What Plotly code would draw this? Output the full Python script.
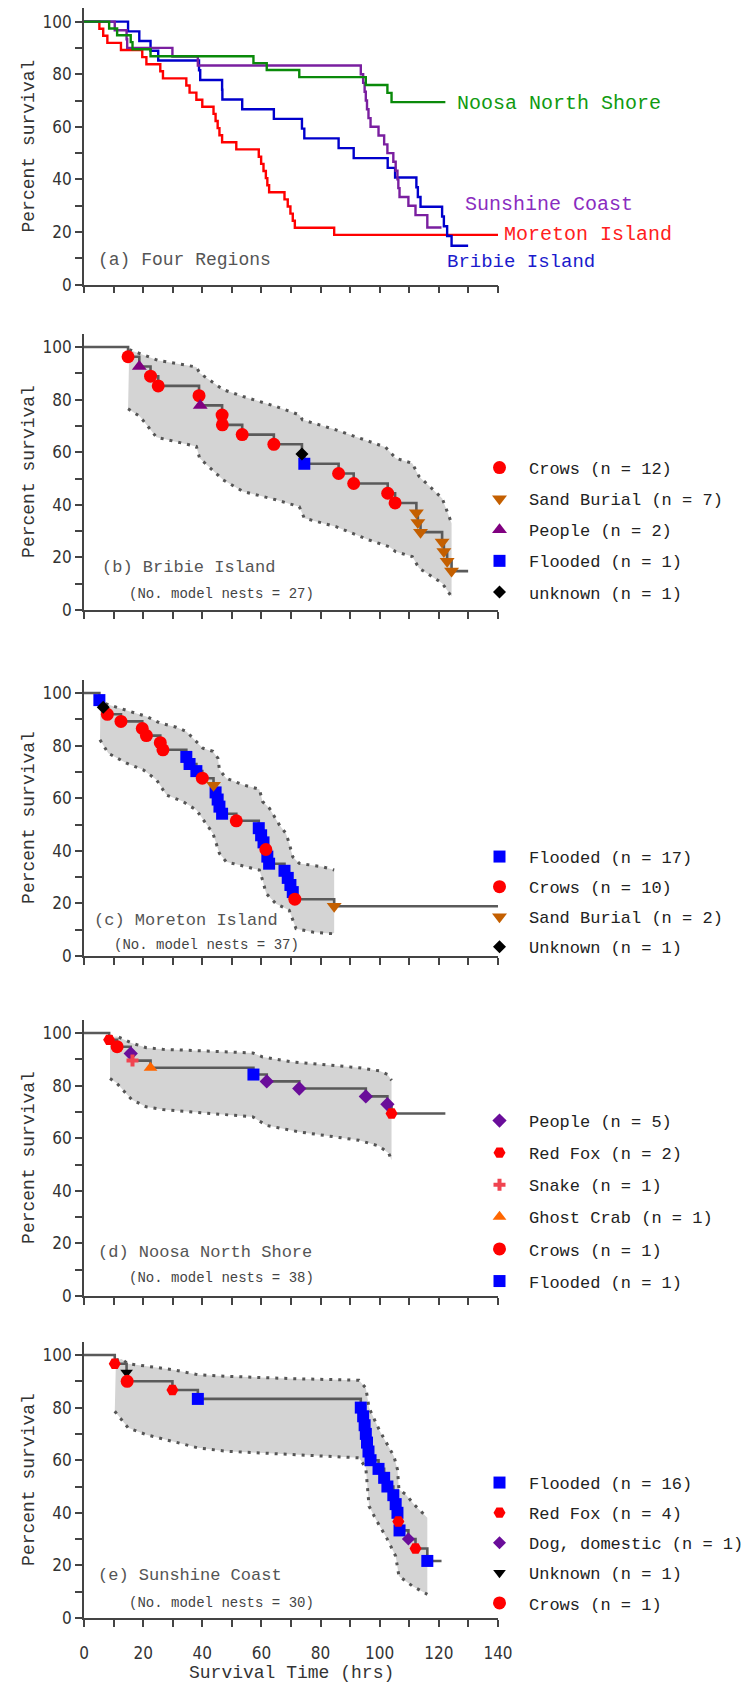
import plotly.graph_objects as go

# ---------------- data ----------------
x_ticks = [0, 10, 20, 30, 40, 50, 60, 70, 80, 90, 100, 110, 120, 130, 140]
x_tick_text = ["0", "", "20", "", "40", "", "60", "", "80", "", "100", "", "120", "", "140"]
y_ticks = [0, 10, 20, 30, 40, 50, 60, 70, 80, 90, 100]
y_tick_text = ["0", "", "20", "", "40", "", "60", "", "80", "", "100"]

# (b) Bribie Island
bribie_t = [14.9, 18.7, 22.5, 25.1, 38.9, 39.3, 46.7, 46.8, 53.5, 64.2, 73.7, 74.5,
            86.1, 91.2, 102.7, 105.2, 112.4, 112.9, 113.8, 121.1, 121.7, 122.8, 124.3]
bribie_s = [96.3, 92.6, 88.9, 85.2, 81.5, 77.8, 74.1, 70.4, 66.7, 63.0, 59.3, 55.6,
            51.9, 48.1, 44.4, 40.7, 37.0, 33.3, 29.6, 25.9, 22.2, 18.5, 14.8]
bribie_cause = ["Crows", "People", "Crows", "Crows", "Crows", "People", "Crows", "Crows",
                "Crows", "Crows", "unknown", "Flooded", "Crows", "Crows", "Crows", "Crows",
                "Sand Burial", "Sand Burial", "Sand Burial", "Sand Burial", "Sand Burial",
                "Sand Burial", "Sand Burial"]
bribie_end = 129.9
bribie_up_t = [15.3, 25.1, 38.0, 39.1, 47.0, 53.7, 64.9, 72.8, 73.9, 85.2, 96.4, 102.0,
               105.4, 111.0, 113.3, 121.1, 122.2, 124.3]
bribie_up = [99.0, 94.9, 92.4, 90.1, 83.8, 81.2, 77.4, 74.2, 72.3, 68.5, 64.1, 61.9,
             57.7, 55.8, 50.8, 42.5, 39.3, 33.0]
bribie_lo_t = [14.9, 18.9, 24.5, 38.0, 39.1, 47.0, 53.7, 64.9, 72.8, 74.5, 85.2, 96.4,
               103.1, 105.4, 111.0, 113.3, 121.1, 124.3]
bribie_lo = [76.5, 73.6, 65.7, 62.2, 57.7, 49.5, 45.1, 41.9, 39.3, 34.9, 31.7, 26.6,
             24.1, 22.2, 20.3, 15.9, 10.2, 5.1]

# (c) Moreton Island
moreton_t = [5.2, 6.5, 7.9, 12.5, 19.7, 21.1, 25.8, 26.7, 34.6, 35.7, 38.0, 40.0, 43.8,
             44.5, 45.2, 45.8, 46.7, 51.5, 59.1, 59.9, 60.7, 61.5, 62.0, 62.6, 67.8,
             68.9, 69.8, 70.6, 71.3, 84.6]
moreton_s = [97.3, 94.6, 91.9, 89.2, 86.5, 83.8, 81.1, 78.4, 75.7, 73.0, 70.3, 67.6, 64.9,
             62.2, 59.5, 56.8, 54.1, 51.4, 48.6, 45.9, 43.2, 40.5, 37.8, 35.1, 32.4,
             29.7, 27.0, 24.3, 21.6, 18.9]
moreton_cause = ["Flooded", "Unknown", "Crows", "Crows", "Crows", "Crows", "Crows", "Crows",
                 "Flooded", "Flooded", "Flooded", "Crows", "Sand Burial", "Flooded",
                 "Flooded", "Flooded", "Flooded", "Crows", "Flooded", "Flooded", "Flooded",
                 "Crows", "Flooded", "Flooded", "Flooded", "Flooded", "Flooded", "Flooded",
                 "Crows", "Sand Burial"]
moreton_end = 140.0
moreton_up_t = [5.6, 6.5, 15.5, 21.1, 25.6, 31.2, 34.6, 36.9, 40.2, 43.6, 45.3, 45.8, 48.1,
                53.7, 59.3, 60.4, 62.7, 66.1, 68.3, 69.4, 70.6, 72.8, 80.7, 84.6]
moreton_up = [98.5, 96.2, 93.0, 91.1, 88.6, 87.0, 85.4, 82.8, 79.0, 77.8, 75.2, 70.8, 67.6,
              65.1, 63.4, 58.7, 56.2, 49.8, 46.6, 42.8, 37.7, 35.2, 33.9, 32.7]
moreton_lo_t = [5.4, 8.2, 14.4, 20.0, 24.5, 27.9, 33.5, 38.0, 43.6, 45.8, 48.1, 54.8, 59.3,
                60.4, 61.6, 64.9, 69.4, 71.7, 77.3, 84.0, 84.6]
moreton_lo = [82.2, 77.1, 73.3, 70.8, 67.0, 61.2, 58.7, 55.5, 46.6, 39.0, 35.8, 33.9, 32.7,
              28.8, 23.8, 19.9, 17.4, 10.4, 9.1, 8.5, 8.8]

# (d) Noosa North Shore
noosa_t = [8.5, 11.2, 15.8, 16.4, 22.5, 57.3, 61.8, 72.8, 95.3, 102.6, 104.0]
noosa_s = [97.4, 94.8, 92.2, 89.5, 86.8, 84.2, 81.6, 78.9, 75.9, 72.9, 69.4]
noosa_cause = ["Red Fox", "Crows", "People", "Snake", "Ghost Crab", "Flooded", "People",
               "People", "People", "People", "Red Fox"]
noosa_end = 122.2
noosa_up_t = [8.8, 11.2, 16.1, 21.1, 26.7, 57.1, 60.4, 70.6, 93.0, 99.8, 102.6, 104.0]
noosa_up = [98.5, 98.7, 96.2, 94.4, 93.8, 92.4, 90.9, 89.0, 86.8, 85.6, 84.3, 82.0]
noosa_lo_t = [8.8, 11.0, 16.1, 21.1, 26.7, 57.1, 61.6, 72.8, 93.0, 99.8, 103.1, 104.0]
noosa_lo = [82.7, 81.0, 74.7, 71.9, 70.9, 68.1, 64.9, 62.4, 59.2, 57.0, 54.2, 51.6]

# (e) Sunshine Coast
sun_t = [10.4, 14.4, 14.6, 29.9, 38.5, 93.6, 94.4, 94.9, 95.3, 95.7, 96.2, 96.9, 99.6,
         101.5, 102.6, 104.6, 105.4, 106.0, 106.3, 106.7, 109.7, 112.1, 116.1]
sun_s = [96.7, 93.3, 90.0, 86.7, 83.3, 80.0, 76.7, 73.3, 70.0, 66.7, 63.3, 60.0, 56.7,
         53.3, 50.0, 46.7, 43.3, 40.0, 36.7, 33.3, 30.0, 26.4, 21.7]
sun_cause = ["Red Fox", "Unknown", "Crows", "Red Fox", "Flooded", "Flooded", "Flooded",
             "Flooded", "Flooded", "Flooded", "Flooded", "Flooded", "Flooded", "Flooded",
             "Flooded", "Flooded", "Flooded", "Flooded", "Red Fox", "Flooded",
             "Dog, domestic", "Red Fox", "Flooded"]
sun_end = 120.9
sun_up_t = [10.8, 12.7, 14.9, 21.1, 30.1, 38.5, 48.1, 70.6, 93.0, 95.3, 96.4, 99.8, 104.8,
            106.0, 106.5, 108.8, 111.6, 116.1]
sun_up = [98.0, 98.5, 96.7, 95.7, 94.4, 92.5, 91.9, 91.0, 90.4, 87.5, 79.9, 71.6, 61.5,
          56.5, 48.9, 47.0, 43.2, 38.1]
sun_lo_t = [10.4, 14.9, 21.1, 30.1, 38.5, 48.1, 70.6, 93.0, 95.3, 96.4, 98.7, 102.6, 105.4,
            106.5, 111.0, 116.1]
sun_lo = [78.6, 72.3, 69.7, 67.2, 64.7, 63.4, 62.2, 60.9, 57.1, 42.5, 37.5, 29.9, 23.5,
          15.9, 12.2, 9.0]

# legend entries (cause, label) per panel
legend_b = [("Crows", "Crows (n = 12)"), ("Sand Burial", "Sand Burial (n = 7)"),
            ("People", "People (n = 2)"), ("Flooded", "Flooded (n = 1)"),
            ("unknown", "unknown (n = 1)")]
legend_c = [("Flooded", "Flooded (n = 17)"), ("Crows", "Crows (n = 10)"),
            ("Sand Burial", "Sand Burial (n = 2)"), ("Unknown", "Unknown (n = 1)")]
legend_d = [("People", "People (n = 5)"), ("Red Fox", "Red Fox (n = 2)"),
            ("Snake", "Snake (n = 1)"), ("Ghost Crab", "Ghost Crab (n = 1)"),
            ("Crows", "Crows (n = 1)"), ("Flooded", "Flooded (n = 1)")]
legend_e = [("Flooded", "Flooded (n = 16)"), ("Red Fox", "Red Fox (n = 4)"),
            ("Dog, domestic", "Dog, domestic (n = 1)"), ("Unknown", "Unknown (n = 1)"),
            ("Crows", "Crows (n = 1)")]

# ---------------- styles ----------------
MONO = "Liberation Mono, Courier New, monospace"
NARROW = "Liberation Sans Narrow, DejaVu Sans Condensed, sans-serif"
STEP_COL = "#5a5a5a"
FILL_COL = "#d4d4d4"

marker_style = {
    "Crows": dict(symbol="circle", color="#ff0000", size=13),
    "Sand Burial": dict(symbol="triangle-down", color="#c45f00", size=13),
    "People_b": dict(symbol="triangle-up", color="#800080", size=13),
    "People": dict(symbol="diamond", color="#6a0d9a", size=11),
    "Flooded": dict(symbol="square", color="#0000ff", size=12),
    "unknown": dict(symbol="diamond", color="#000000", size=10),
    "Unknown": dict(symbol="diamond", color="#000000", size=10),
    "Unknown_e": dict(symbol="triangle-down", color="#000000", size=11),
    "Red Fox": dict(symbol="hexagon2", color="#ff0000", size=12),
    "Snake": dict(symbol="cross", color="#f04450", size=10),
    "Ghost Crab": dict(symbol="triangle-up", color="#ff6600", size=12),
    "Dog, domestic": dict(symbol="diamond", color="#6a0d9a", size=10),
}

W, H = 755, 1684
x_dom = [84 / W, 498 / W]
zero_px = [284.6, 610.0, 956.0, 1296.0, 1618.0]
PX_PER_UNIT = 2.63
y_doms = [[1 - z / H, 1 - (z - 105 * PX_PER_UNIT) / H] for z in zero_px]

fig = go.Figure()


def ax(i):
    return ("x" if i == 1 else f"x{i}"), ("y" if i == 1 else f"y{i}")


def add_panel(i, t, s, cause, end, up_t, up, lo_t, lo, legend_items, legend_name, overrides):
    xa, ya = ax(i)
    # confidence band fill
    fig.add_trace(go.Scatter(x=up_t + lo_t[::-1], y=up + lo[::-1], fill="toself",
                             fillcolor=FILL_COL, line=dict(width=0), mode="lines",
                             showlegend=False, hoverinfo="skip", xaxis=xa, yaxis=ya))
    for bt, bs in ((up_t, up), (lo_t, lo)):
        fig.add_trace(go.Scatter(x=bt, y=bs, mode="lines",
                                 line=dict(color="#555555", width=3, dash="3px,6px"),
                                 showlegend=False, hoverinfo="skip", xaxis=xa, yaxis=ya))
    # KM step line
    fig.add_trace(go.Scatter(x=[0] + t + [end], y=[100] + s + [s[-1]], mode="lines",
                             line=dict(color=STEP_COL, width=2.6, shape="hv"),
                             showlegend=False, hoverinfo="skip", xaxis=xa, yaxis=ya))
    # markers by cause (legend order)
    for k, (c, label) in enumerate(legend_items):
        st = marker_style[overrides.get(c, c)]
        xs = [tt for tt, cc in zip(t, cause) if cc == c]
        ys = [ss for ss, cc in zip(s, cause) if cc == c]
        fig.add_trace(go.Scatter(x=xs, y=ys, mode="markers", name=label,
                                 marker=dict(symbol=st["symbol"], color=st["color"],
                                             size=st["size"], line=dict(width=0)),
                                 legend=legend_name, legendgroup=f"{legend_name}_{k}",
                                 xaxis=xa, yaxis=ya, cliponaxis=False))


# panel (a): four regions
region_cols = {"Noosa": "#0a8a0a", "Sunshine": "#7a1fa0", "Moreton": "#ff0000", "Bribie": "#0000cc"}
for key, t, s, end in (("Moreton", moreton_t, moreton_s, moreton_end),
                       ("Bribie", bribie_t, bribie_s, bribie_end),
                       ("Sunshine", sun_t, sun_s, sun_end),
                       ("Noosa", noosa_t, noosa_s, noosa_end)):
    fig.add_trace(go.Scatter(x=[0] + t + [end], y=[100] + s + [s[-1]], mode="lines",
                             line=dict(color=region_cols[key], width=2.4, shape="hv"),
                             showlegend=False, hoverinfo="skip", xaxis="x", yaxis="y"))

add_panel(2, bribie_t, bribie_s, bribie_cause, bribie_end, bribie_up_t, bribie_up,
          bribie_lo_t, bribie_lo, legend_b, "legend", {"People": "People_b"})
add_panel(3, moreton_t, moreton_s, moreton_cause, moreton_end, moreton_up_t, moreton_up,
          moreton_lo_t, moreton_lo, legend_c, "legend2", {})
add_panel(4, noosa_t, noosa_s, noosa_cause, noosa_end, noosa_up_t, noosa_up,
          noosa_lo_t, noosa_lo, legend_d, "legend3", {})
add_panel(5, sun_t, sun_s, sun_cause, sun_end, sun_up_t, sun_up,
          sun_lo_t, sun_lo, legend_e, "legend4", {"Unknown": "Unknown_e"})

layout = dict(width=W, height=H, margin=dict(l=0, r=0, t=0, b=0, autoexpand=False),
              paper_bgcolor="white", plot_bgcolor="white", showlegend=True)

for i in range(1, 6):
    xk = "xaxis" if i == 1 else f"xaxis{i}"
    yk = "yaxis" if i == 1 else f"yaxis{i}"
    xa, ya = ax(i)
    layout[xk] = dict(domain=x_dom, range=[0, 140], anchor=ya, showline=True,
                      linecolor="#444", linewidth=1.6, ticks="outside", ticklen=7,
                      tickwidth=1.5, tickcolor="#444", tickmode="array", tickvals=x_ticks,
                      ticktext=x_tick_text, showticklabels=(i == 5), showgrid=False,
                      zeroline=False, automargin=False, ticklabelstandoff=12,
                      tickfont=dict(family=NARROW, size=17, color="#333"))
    layout[yk] = dict(domain=y_doms[i - 1], range=[0, 105], anchor=xa, showline=True,
                      linecolor="#444", linewidth=1.6, ticks="outside", ticklen=7,
                      tickwidth=1.5, tickcolor="#444", tickmode="array", tickvals=y_ticks,
                      ticktext=y_tick_text, showgrid=False, zeroline=False, automargin=False,
                      tickfont=dict(family=NARROW, size=17, color="#333"))

legend_rows = {"legend": 466, "legend2": 855, "legend3": 1119, "legend4": 1481}
legend_gap = {"legend": 6, "legend2": 5, "legend3": 7, "legend4": 5}
for name, top in legend_rows.items():
    layout[name] = dict(x=470 / W, y=1 - (top - 16) / H, xanchor="left", yanchor="top",
                        font=dict(family=MONO, size=17, color="#222"),
                        bgcolor="rgba(0,0,0,0)", tracegroupgap=legend_gap[name],
                        itemwidth=49)

fig.update_layout(**layout)

ann = []
# y axis titles
for d in y_doms:
    ann.append(dict(text="Percent survival", textangle=-90, x=29 / W, y=(d[0] + d[1]) / 2,
                    xref="paper", yref="paper", xanchor="center", yanchor="middle",
                    showarrow=False, font=dict(family=MONO, size=18, color="#333")))
ann.append(dict(text="Survival Time (hrs)", x=70, y=1 - 1673 / H, xref="x5", yref="paper",
                xanchor="center", yanchor="middle", showarrow=False,
                font=dict(family=MONO, size=18, color="#333")))

# panel (a) region labels (positions in axis-domain fractions of the 0-140 / 0-105 axes)
for txt, xx, yy, col, fs in (("Noosa North Shore", 125.3, 68.7, "#109a10", 20),
                             ("Sunshine Coast", 128.2, 30.4, "#8a2cc0", 20),
                             ("Moreton Island", 141.5, 18.9, "#ff2020", 20),
                             ("Bribie Island", 122.0, 8.7, "#1a1acc", 19)):
    ann.append(dict(text=txt, x=xx / 140, y=yy / 105, xref="x domain", yref="y domain",
                    xanchor="left", yanchor="middle",
                    showarrow=False, font=dict(family=MONO, size=fs, color=col)))
ann.append(dict(text="(a) Four Regions", x=4.0, y=9.4, xref="x", yref="y", xanchor="left",
                yanchor="middle", showarrow=False, font=dict(family=MONO, size=18, color="#555")))

for i, title, tx, ty, nests, nx, ny in ((2, "(b) Bribie Island", 5.4, 16.1, 27, 14.5, 6.0),
                                        (3, "(c) Moreton Island", 2.6, 13.6, 37, 9.4, 4.1),
                                        (4, "(d) Noosa North Shore", 4.0, 16.5, 38, 14.5, 6.8),
                                        (5, "(e) Sunshine Coast", 4.0, 16.2, 30, 14.5, 5.7)):
    xa, ya = ax(i)
    ann.append(dict(text=title, x=tx, y=ty, xref=xa, yref=ya, xanchor="left",
                    yanchor="middle", showarrow=False,
                    font=dict(family=MONO, size=17, color="#555")))
    ann.append(dict(text=f"(No. model nests = {nests})", x=nx, y=ny, xref=xa, yref=ya,
                    xanchor="left", yanchor="middle", showarrow=False,
                    font=dict(family=MONO, size=14, color="#444")))

fig.update_layout(annotations=ann)
fig.write_html("out.html")
